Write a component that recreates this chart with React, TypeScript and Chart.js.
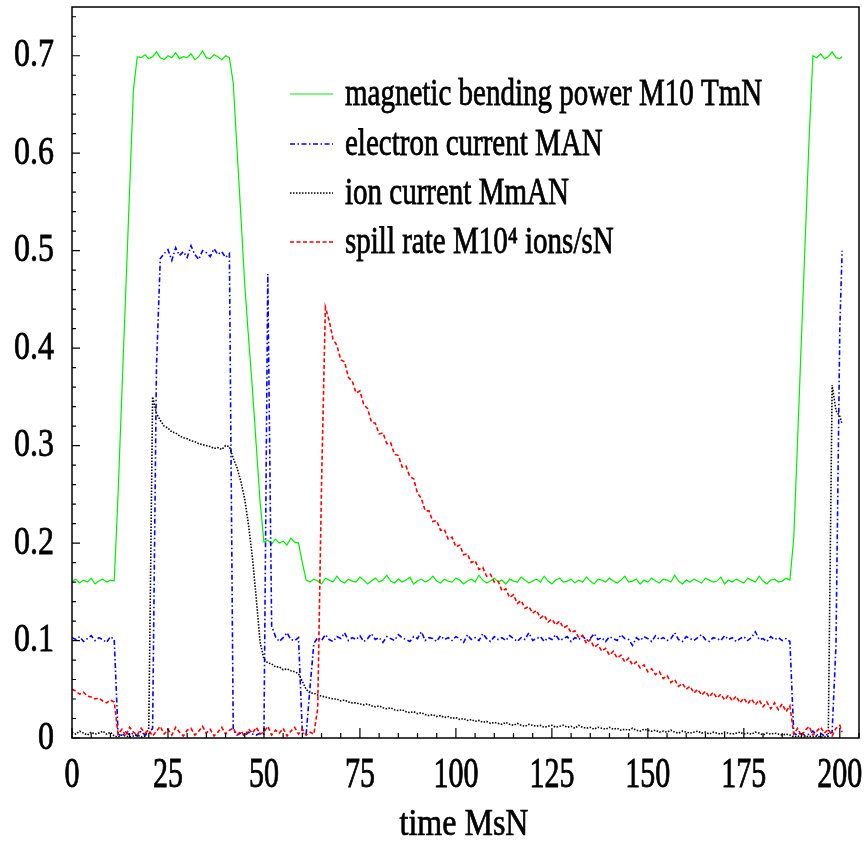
import React, { useEffect, useRef } from "react";
import { Chart, registerables } from "chart.js";

Chart.register(...registerables);

// time axis (s)
const TIME_S = [
  0, 1, 2, 3, 4, 5, 6, 7, 8, 9, 10, 11, 12, 13, 14, 15, 16, 17, 18, 19,
  20, 21, 22, 23, 24, 25, 26, 27, 28, 29, 30, 31, 32, 33, 34, 35, 36, 37, 38, 39,
  40, 41, 42, 43, 44, 45, 46, 47, 48, 49, 50, 51, 52, 53, 54, 55, 56, 57, 58, 59,
  60, 61, 62, 63, 64, 65, 66, 67, 68, 69, 70, 71, 72, 73, 74, 75, 76, 77, 78, 79,
  80, 81, 82, 83, 84, 85, 86, 87, 88, 89, 90, 91, 92, 93, 94, 95, 96, 97, 98, 99,
  100, 101, 102, 103, 104, 105, 106, 107, 108, 109, 110, 111, 112, 113, 114, 115, 116, 117, 118, 119,
  120, 121, 122, 123, 124, 125, 126, 127, 128, 129, 130, 131, 132, 133, 134, 135, 136, 137, 138, 139,
  140, 141, 142, 143, 144, 145, 146, 147, 148, 149, 150, 151, 152, 153, 154, 155, 156, 157, 158, 159,
  160, 161, 162, 163, 164, 165, 166, 167, 168, 169, 170, 171, 172, 173, 174, 175, 176, 177, 178, 179,
  180, 181, 182, 183, 184, 185, 186, 187, 188, 189, 190, 191, 192, 193, 194, 195, 196, 197, 198, 199,
  200, 200.6,
];

// magnetic bending power (Tm)
const MAGNET = [
  0.161, 0.163, 0.159, 0.162, 0.160, 0.164, 0.158, 0.161, 0.163, 0.160, 0.162, 0.161,
  0.250, 0.355, 0.458, 0.562, 0.665, 0.699,
  0.698, 0.701, 0.697, 0.699, 0.704, 0.698, 0.696, 0.700, 0.698, 0.703, 0.697, 0.699,
  0.698, 0.702, 0.696, 0.699, 0.705, 0.698, 0.697, 0.701, 0.699, 0.696, 0.700, 0.698,
  0.672, 0.603, 0.535, 0.465, 0.410, 0.358, 0.300, 0.242, 0.201,
  0.203, 0.199, 0.204, 0.200, 0.202, 0.198, 0.205, 0.201, 0.200,
  0.180, 0.162,
  0.160, 0.163, 0.161, 0.158, 0.164, 0.162, 0.160, 0.166, 0.161, 0.159,
  0.163, 0.161, 0.160, 0.165, 0.162, 0.158, 0.161, 0.164, 0.160, 0.162,
  0.167, 0.161, 0.159, 0.163, 0.160, 0.162, 0.165, 0.158, 0.161, 0.163,
  0.160, 0.162, 0.166, 0.161, 0.159, 0.163, 0.161, 0.160, 0.164, 0.162,
  0.158, 0.161, 0.163, 0.160, 0.167, 0.162, 0.159, 0.161, 0.164, 0.160,
  0.162, 0.158, 0.163, 0.161, 0.160, 0.165, 0.162, 0.159, 0.161, 0.163,
  0.160, 0.166, 0.161, 0.158, 0.162, 0.164, 0.160, 0.161, 0.163, 0.159,
  0.162, 0.160, 0.165, 0.161, 0.158, 0.163, 0.162, 0.160, 0.164, 0.161,
  0.159, 0.162, 0.166, 0.160, 0.161, 0.163, 0.158, 0.162, 0.160, 0.164,
  0.161, 0.159, 0.163, 0.162, 0.160, 0.167, 0.161, 0.158, 0.162, 0.160,
  0.163, 0.161, 0.159, 0.164, 0.162, 0.160, 0.161, 0.165, 0.158, 0.162,
  0.160, 0.163, 0.161, 0.159, 0.164, 0.162, 0.160, 0.166, 0.161, 0.158,
  0.162, 0.163, 0.160, 0.161, 0.164, 0.162,
  0.205, 0.305, 0.410, 0.512, 0.615, 0.700,
  0.698, 0.702, 0.697, 0.699, 0.704, 0.698, 0.697,
  0.699,
];

// electron current (A)
const ELECTRON = [
  0.103, 0.101, 0.104, 0.099, 0.102, 0.105, 0.100, 0.103, 0.101, 0.098, 0.104, 0.101,
  0.004, 0.002, 0.006, 0.003, 0.005, 0.002, 0.007, 0.003, 0.004,
  0.010, 0.380, 0.492,
  0.497, 0.501, 0.490, 0.503, 0.495, 0.499, 0.493, 0.505, 0.496, 0.491,
  0.500, 0.498, 0.494, 0.502, 0.496, 0.499, 0.493, 0.497,
  0.008,
  0.003, 0.005, 0.002, 0.006, 0.004, 0.003, 0.005, 0.004,
  0.476, 0.115,
  0.104, 0.099, 0.103, 0.108, 0.101, 0.100, 0.103,
  0.005, 0.004, 0.052, 0.097,
  0.103, 0.100, 0.106, 0.101, 0.099, 0.104, 0.102, 0.108, 0.100, 0.103,
  0.101, 0.105, 0.099, 0.102, 0.107, 0.101, 0.103, 0.098, 0.104, 0.102,
  0.100, 0.106, 0.103, 0.101, 0.099, 0.104, 0.102, 0.109, 0.100, 0.103,
  0.102, 0.099, 0.105, 0.101, 0.103, 0.100, 0.104, 0.102, 0.098, 0.106,
  0.101, 0.103, 0.100, 0.107, 0.102, 0.099, 0.104, 0.101, 0.103, 0.100,
  0.105, 0.102, 0.099, 0.103, 0.101, 0.108, 0.100, 0.102, 0.104, 0.099,
  0.103, 0.101, 0.106, 0.100, 0.102, 0.104, 0.099, 0.103, 0.101, 0.105,
  0.100, 0.102, 0.107, 0.101, 0.103, 0.099, 0.104, 0.102, 0.100, 0.106,
  0.102, 0.101, 0.095, 0.103, 0.100, 0.104, 0.102, 0.099, 0.105, 0.101,
  0.103, 0.100, 0.102, 0.108, 0.101, 0.099, 0.104, 0.102, 0.100, 0.103,
  0.106, 0.101, 0.099, 0.103, 0.102, 0.100, 0.105, 0.101, 0.103, 0.099,
  0.102, 0.104, 0.100, 0.103, 0.109, 0.101, 0.102, 0.099, 0.104, 0.101,
  0.103, 0.100, 0.102, 0.099,
  0.005, 0.003, 0.006, 0.002, 0.004, 0.007, 0.003, 0.005, 0.002, 0.004,
  0.006, 0.095, 0.420, 0.500,
];

// ion current (mA)
const ION = [
  0.006, 0.004, 0.007, 0.005, 0.003, 0.006, 0.004, 0.005, 0.007, 0.004, 0.006,
  0.002, 0.001, 0.003, 0.002, 0.001, 0.002, 0.003, 0.001, 0.002,
  0.010, 0.350, 0.333, 0.326, 0.320, 0.318, 0.314, 0.313, 0.310, 0.308,
  0.307, 0.305, 0.304, 0.302, 0.301, 0.300, 0.299, 0.297, 0.298, 0.296,
  0.300, 0.299,
  0.287, 0.277, 0.263, 0.245, 0.218, 0.185, 0.143, 0.098, 0.081,
  0.077, 0.076, 0.073, 0.073, 0.070, 0.071, 0.069, 0.068, 0.066, 0.058, 0.050, 0.046, 0.046,
  0.044, 0.043, 0.042, 0.041, 0.040, 0.040, 0.038, 0.039, 0.037, 0.036,
  0.036, 0.035, 0.034, 0.035, 0.033, 0.032, 0.033, 0.031, 0.030, 0.031,
  0.029, 0.028, 0.029, 0.027, 0.026, 0.027, 0.025, 0.026, 0.024, 0.023,
  0.024, 0.022, 0.023, 0.021, 0.022, 0.020, 0.021, 0.019, 0.020, 0.018,
  0.019, 0.017, 0.018, 0.016, 0.017, 0.015, 0.016, 0.015, 0.014, 0.016,
  0.014, 0.013, 0.015, 0.013, 0.012, 0.014, 0.013, 0.012, 0.013, 0.011,
  0.012, 0.013, 0.011, 0.012, 0.013, 0.011, 0.012, 0.010, 0.013, 0.011,
  0.010, 0.011, 0.009, 0.011, 0.010, 0.009, 0.011, 0.009, 0.010, 0.008,
  0.009, 0.008, 0.010, 0.008, 0.007, 0.009, 0.008, 0.007, 0.008, 0.006,
  0.007, 0.006, 0.008, 0.006, 0.005, 0.007, 0.006, 0.005, 0.006, 0.007,
  0.005, 0.006, 0.004, 0.006, 0.005, 0.004, 0.006, 0.005, 0.004, 0.005,
  0.006, 0.004, 0.005, 0.004, 0.006, 0.005, 0.003, 0.005, 0.004, 0.005,
  0.004, 0.003, 0.004, 0.003,
  0.001, 0.002, 0.001, 0.001, 0.002, 0.001, 0.002, 0.001, 0.001, 0.002,
  0.362, 0.336, 0.330, 0.322,
];

// spill rate (10^4 ions/s)
const SPILL = [
  0.050, 0.048, 0.045, 0.047, 0.043, 0.042, 0.040, 0.041, 0.038, 0.036, 0.039, 0.037,
  0.004, 0.009, 0.002, 0.011, 0.006, 0.003, 0.010, 0.005, 0.008, 0.002,
  0.007, 0.012, 0.004, 0.009, 0.003, 0.011, 0.006, 0.002, 0.008, 0.010,
  0.003, 0.007, 0.012, 0.005, 0.009, 0.002, 0.006, 0.011, 0.004, 0.008,
  0.010, 0.003, 0.007, 0.002, 0.009, 0.005, 0.011, 0.004, 0.006, 0.012,
  0.003, 0.008, 0.005, 0.010, 0.002, 0.007, 0.011, 0.004, 0.009, 0.003,
  0.006, 0.004,
  0.030, 0.260, 0.442,
  0.428, 0.409, 0.403, 0.388, 0.386, 0.370, 0.366, 0.354, 0.356, 0.342,
  0.338, 0.324, 0.323, 0.312, 0.313, 0.302, 0.303, 0.291, 0.290, 0.278,
  0.279, 0.268, 0.266, 0.251, 0.246, 0.233, 0.233, 0.222, 0.223, 0.213,
  0.214, 0.204, 0.206, 0.196, 0.198, 0.188, 0.189, 0.180, 0.182, 0.173,
  0.175, 0.166, 0.168, 0.160, 0.161, 0.151, 0.153, 0.144, 0.147, 0.138,
  0.141, 0.133, 0.135, 0.128, 0.131, 0.123, 0.126, 0.119, 0.122, 0.116,
  0.120, 0.113, 0.115, 0.108, 0.110, 0.103, 0.105, 0.097, 0.101, 0.093,
  0.096, 0.089, 0.092, 0.085, 0.089, 0.082, 0.085, 0.078, 0.082, 0.075,
  0.078, 0.072, 0.075, 0.068, 0.071, 0.065, 0.068, 0.061, 0.064, 0.057,
  0.060, 0.053, 0.056, 0.050, 0.053, 0.046, 0.050, 0.044, 0.048, 0.042,
  0.047, 0.041, 0.045, 0.039, 0.044, 0.038, 0.043, 0.036, 0.041, 0.035,
  0.040, 0.034, 0.039, 0.032, 0.037, 0.030, 0.036, 0.029, 0.035, 0.027,
  0.033,
  0.004, 0.010, 0.002, 0.008, 0.012, 0.003, 0.007, 0.011, 0.005, 0.009,
  0.002, 0.010, 0.013,
  0.006,
];

const X_TICKS = [0, 25, 50, 75, 100, 125, 150, 175, 200];
const Y_TICKS = [0, 0.1, 0.2, 0.3, 0.4, 0.5, 0.6, 0.7];
const Y_TICK_LABELS = ["0", "0.1", "0.2", "0.3", "0.4", "0.5", "0.6", "0.7"];
const X_TITLE = "time MsN";
const LEGEND_LABELS = [
  "magnetic bending power M10 TmN",
  "electron current MAN",
  "ion current MmAN",
  "spill rate M10\u2074 ions/sN",
];
const SERIES_COLORS = ["#00ee00", "#0000ff", "#000000", "#ff0000"];
const SERIES_DASH = [[], [5, 2.5, 1.5, 2.5], [1.5, 1.5], [4, 2.5]];
const SERIES_WIDTH = [1.2, 1.6, 1.6, 1.6];

const FONT = '"Liberation Serif", "Times New Roman", serif';

function drawText(
  ctx: CanvasRenderingContext2D,
  text: string,
  x: number,
  y: number,
  size: number,
  align: CanvasTextAlign,
  baseline: CanvasTextBaseline,
  sy: number
) {
  ctx.save();
  ctx.translate(x, y);
  ctx.scale(1, sy);
  ctx.font = `${size}px ${FONT}`;
  ctx.textAlign = align;
  ctx.textBaseline = baseline;
  ctx.fillStyle = "#000";
  ctx.strokeStyle = "#000";
  ctx.lineWidth = 0.6;
  ctx.setLineDash([]);
  ctx.fillText(text, 0, 0);
  ctx.strokeText(text, 0, 0);
  ctx.restore();
}

const decorPlugin = {
  id: "decor",
  afterDatasetsDraw(chart: any) {
    const { ctx, chartArea: a, scales } = chart;
    const xs = scales.x;
    const ys = scales.y;
    ctx.save();
    ctx.strokeStyle = "#000";
    ctx.setLineDash([]);
    // ticks
    ctx.lineWidth = 1.2;
    ctx.beginPath();
    for (let i = 0; i <= 41; i++) {
      const v = i * 5;
      const px = xs.getPixelForValue(v);
      const len = v % 25 === 0 ? 10 : 5;
      ctx.moveTo(px, a.bottom);
      ctx.lineTo(px, a.bottom - len);
    }
    for (let i = 0; i <= 37; i++) {
      const v = i * 0.02;
      const py = ys.getPixelForValue(v);
      const len = i % 5 === 0 ? 8 : 4;
      ctx.moveTo(a.left, py);
      ctx.lineTo(a.left + len, py);
    }
    ctx.stroke();
    // frame
    ctx.lineWidth = 1.5;
    ctx.strokeRect(a.left, a.top, a.right - a.left, a.bottom - a.top);

    // tick labels
    X_TICKS.forEach((v) => {
      drawText(ctx, String(v), xs.getPixelForValue(v), 776, 30, "center", "middle", 1.38);
    });
    Y_TICKS.forEach((v, i) => {
      drawText(ctx, Y_TICK_LABELS[i], 54, ys.getPixelForValue(v), 32, "right", "middle", 1.28);
    });
    // axis title
    drawText(ctx, X_TITLE, 464, 835, 32, "center", "alphabetic", 1.2);

    // legend
    const rowY = [94, 144, 193, 242];
    LEGEND_LABELS.forEach((lab, i) => {
      const y = rowY[i];
      ctx.save();
      ctx.strokeStyle = SERIES_COLORS[i];
      ctx.lineWidth = SERIES_WIDTH[i];
      ctx.setLineDash(SERIES_DASH[i]);
      ctx.beginPath();
      ctx.moveTo(290, y);
      ctx.lineTo(333, y);
      ctx.stroke();
      ctx.restore();
      drawText(ctx, lab, 345, y + 11, 29, "left", "alphabetic", 1.3);
    });
    ctx.restore();
  },
};

export default function App() {
  const ref = useRef<HTMLCanvasElement>(null);
  useEffect(() => {
    if (!ref.current) return;
    const series = [MAGNET, ELECTRON, ION, SPILL];
    const datasets = series.map((ys, si) => ({
      label: LEGEND_LABELS[si],
      data: ys.map((y, i) => ({ x: TIME_S[i], y })),
      borderColor: SERIES_COLORS[si],
      borderWidth: SERIES_WIDTH[si],
      borderDash: SERIES_DASH[si],
      pointRadius: 0,
      fill: false,
      tension: 0,
      order: 4 - si,
    }));
    const chart = new Chart(ref.current, {
      type: "line",
      data: { datasets },
      options: {
        animation: false,
        responsive: false,
        devicePixelRatio: 1,
        layout: { padding: { left: 72, right: 9, top: 7, bottom: 109 } },
        scales: {
          x: { type: "linear", min: 0, max: 205, display: false },
          y: { type: "linear", min: 0, max: 0.75, display: false },
        },
        plugins: {
          legend: { display: false },
          tooltip: { enabled: false },
        },
        events: [],
      },
      plugins: [decorPlugin],
    } as any);
    return () => chart.destroy();
  }, []);
  return (
    <div style={{ position: "fixed", left: 0, top: 0, width: 868, height: 847, background: "#fff" }}>
      <canvas ref={ref} width={868} height={847} style={{ display: "block" }} />
    </div>
  );
}
